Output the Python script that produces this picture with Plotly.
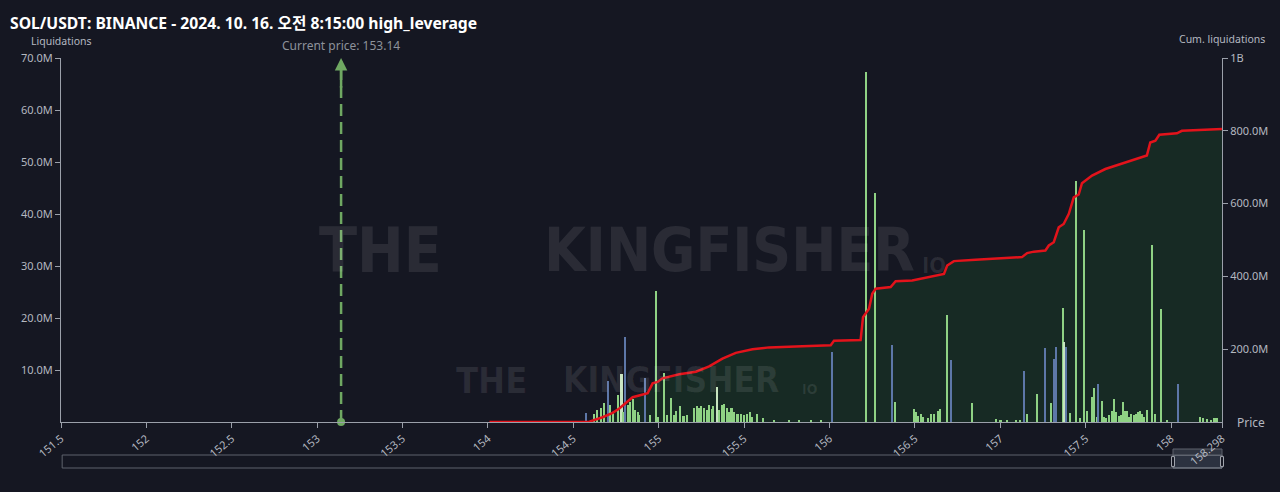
import plotly.graph_objects as go

# ---------------- data ----------------
bar_price = [154.574, 154.623, 154.639, 154.662, 154.677, 154.703, 154.716, 154.730, 154.759, 154.782,
             154.792, 154.804, 154.818, 154.833, 154.847, 154.861, 154.876, 154.886, 154.919, 154.950,
             154.984, 154.997, 155.032, 155.048, 155.071, 155.087, 155.101, 155.126, 155.145, 155.168,
             155.208, 155.223, 155.237, 155.250, 155.266, 155.282, 155.295, 155.309, 155.320, 155.340,
             155.354, 155.370, 155.383, 155.399, 155.412, 155.426, 155.442, 155.461, 155.481, 155.500,
             155.518, 155.535, 155.547, 155.576, 155.611, 155.675, 155.763, 155.822, 155.892, 155.950,
             156.015, 156.212, 156.266, 156.364, 156.386, 156.494, 156.508, 156.519, 156.533, 156.547,
             156.578, 156.595, 156.609, 156.633, 156.646, 156.689, 156.713, 156.832, 156.972, 157.001,
             157.038, 157.089, 157.114, 157.137, 157.157, 157.215, 157.264, 157.294, 157.313, 157.325,
             157.365, 157.375, 157.386, 157.406, 157.442, 157.465, 157.492, 157.508, 157.537, 157.551,
             157.566, 157.574, 157.595, 157.609, 157.619, 157.635, 157.654, 157.665, 157.679, 157.693,
             157.706, 157.718, 157.728, 157.742, 157.755, 157.767, 157.782, 157.794, 157.806, 157.818,
             157.829, 157.843, 157.858, 157.890, 157.904, 157.940, 157.975, 158.038, 158.171, 158.184,
             158.209, 158.235, 158.254, 158.268]
bar_value_m = [1.8, 1.5, 2.3, 2.7, 3.6, 7.8, 3.3, 2.0, 5.2, 9.2,
               2.0, 16.4, 3.3, 3.9, 4.4, 2.3, 1.9, 1.4, 8.5, 1.4,
               25.1, 0.9, 9.5, 1.4, 4.7, 1.4, 2.1, 3.1, 1.2, 1.4,
               2.7, 3.1, 2.7, 3.1, 2.7, 2.3, 3.3, 2.5, 3.0, 6.8,
               2.3, 3.3, 3.4, 2.7, 1.9, 2.6, 1.9, 1.6, 1.5, 1.3,
               1.6, 1.9, 1.0, 1.5, 0.7, 0.4, 0.4, 0.3, 0.4, 0.3,
               13.5, 67.3, 44.0, 14.8, 3.9, 2.5, 2.0, 1.2, 1.5, 0.9,
               0.7, 1.5, 1.6, 2.2, 2.5, 20.5, 11.9, 3.7, 0.5, 0.4,
               0.3, 0.4, 0.3, 9.8, 1.5, 5.3, 14.3, 3.7, 12.2, 14.5,
               22.0, 15.4, 14.5, 1.8, 46.3, 0.7, 37.0, 2.2, 4.9, 6.6,
               1.0, 7.4, 4.0, 0.9, 0.8, 1.4, 2.2, 4.5, 1.9, 1.2,
               1.4, 3.8, 2.2, 2.1, 1.0, 1.5, 1.4, 1.5, 1.9, 2.1,
               1.6, 1.0, 2.4, 34.0, 1.6, 21.7, 0.3, 7.3, 1.0, 0.8,
               0.5, 0.4, 0.7, 0.7]
bar_side = ['b', 'g', 'g', 'g', 'g', 'b', 'g', 'g', 'g', 'w',
            'g', 'b', 'g', 'g', 'g', 'g', 'g', 'g', 'b', 'g',
            'g', 'g', 'g', 'g', 'g', 'g', 'g', 'g', 'g', 'g',
            'g', 'g', 'g', 'g', 'g', 'g', 'g', 'g', 'g', 'w',
            'g', 'g', 'g', 'g', 'g', 'g', 'g', 'g', 'g', 'g',
            'g', 'g', 'g', 'g', 'g', 'g', 'g', 'g', 'g', 'g',
            'b', 'g', 'g', 'b', 'g', 'g', 'g', 'g', 'g', 'g',
            'g', 'g', 'g', 'g', 'g', 'g', 'b', 'g', 'g', 'g',
            'g', 'g', 'g', 'b', 'g', 'g', 'b', 'g', 'b', 'b',
            'g', 'w', 'b', 'g', 'g', 'g', 'g', 'g', 'g', 'g',
            'g', 'b', 'g', 'g', 'g', 'g', 'g', 'g', 'g', 'g',
            'g', 'g', 'g', 'g', 'g', 'g', 'g', 'g', 'g', 'g',
            'g', 'g', 'g', 'g', 'g', 'g', 'g', 'b', 'g', 'g',
            'g', 'g', 'g', 'g']

cum_price = [154.009, 154.564, 154.594, 154.671, 154.730, 154.769, 154.818, 154.847, 154.896, 154.935,
             154.964, 154.993, 155.022, 155.120, 155.218, 155.295, 155.373, 155.451, 155.549, 155.646,
             155.841, 156.007, 156.026, 156.182, 156.196, 156.212, 156.231, 156.250, 156.270, 156.358,
             156.387, 156.484, 156.563, 156.640, 156.670, 156.689, 156.728, 156.855, 157.127, 157.157,
             157.196, 157.264, 157.284, 157.313, 157.342, 157.371, 157.401, 157.430, 157.459, 157.478,
             157.537, 157.615, 157.732, 157.858, 157.878, 157.908, 157.931, 158.034, 158.063, 158.268,
             158.298]
cum_value_m = [0, 0, 1, 13, 25, 37, 56, 68, 74, 79,
               106, 110, 120, 131, 138, 153, 174, 190, 200, 205,
               208, 211, 223, 225, 288, 298, 311, 352, 366, 371,
               387, 389, 396, 403, 407, 430, 442, 446, 453, 464,
               468, 471, 485, 494, 535, 544, 572, 617, 625, 656,
               677, 695, 713, 732, 768, 773, 789, 793, 800, 804,
               805]

current_price = 153.14
x_tick_vals = [151.5, 152, 152.5, 153, 153.5, 154, 154.5, 155, 155.5, 156, 156.5, 157, 157.5, 158, 158.298]
x_tick_text = ["151.5", "152", "152.5", "153", "153.5", "154", "154.5", "155", "155.5", "156", "156.5",
               "157", "157.5", "158", "158.298"]
left_tick_vals = [10, 20, 30, 40, 50, 60, 70]
left_tick_text = ["10.0M", "20.0M", "30.0M", "40.0M", "50.0M", "60.0M", "70.0M"]
right_tick_vals = [200, 400, 600, 800, 1000]
right_tick_text = ["200.0M", "400.0M", "600.0M", "800.0M", "1B"]

title_text = "SOL/USDT: BINANCE - 2024. 10. 16. 오전 8:15:00 high_leverage"

# ---------------- style ----------------
BG = "#151722"
AXIS = "#9ba0aa"
TICKTXT = "#b4b8c0"
FONT = "Noto Sans, Noto Sans CJK KR, sans-serif"
side_colors = {'g': '#8fd284', 'b': '#5d77a8', 'w': '#c6e4bf'}
W, H = 1280, 492

fig = go.Figure()

# cumulative fill (bottom layer, axis y)
fig.add_trace(go.Scatter(
    x=cum_price, y=cum_value_m, yaxis="y", mode="lines",
    line=dict(width=0, color="rgba(0,0,0,0)"), fill="tozeroy",
    fillcolor="rgba(26,62,38,0.50)", hoverinfo="skip"))

# liquidation bars (axis y2 on the left)
fig.add_trace(go.Bar(
    x=bar_price, y=bar_value_m, yaxis="y2", width=0.012,
    marker=dict(color=[side_colors[s] for s in bar_side], line=dict(width=0))))

# current price marker line
fig.add_trace(go.Scatter(
    x=[current_price, current_price], y=[0, 68], yaxis="y2", mode="lines",
    line=dict(color="#6fa862", width=2.5, dash="12px,6px"), cliponaxis=False))
fig.add_trace(go.Scatter(
    x=[current_price], y=[0], yaxis="y2", mode="markers",
    marker=dict(color="#6fa862", size=8), cliponaxis=False))

# cumulative line (top layer, axis y3)
fig.add_trace(go.Scatter(
    x=cum_price, y=cum_value_m, yaxis="y3", mode="lines",
    line=dict(color="#e3131b", width=2.5)))

annotations = [
    dict(x=current_price, y=70, ax=current_price, ay=64, xref="x", yref="y2", axref="x", ayref="y2",
         text="", showarrow=True, arrowhead=2, arrowsize=1, arrowwidth=2.5, arrowcolor="#6fa862"),
    dict(x=current_price, y=1.033, xref="x", yref="paper", text="Current price: 153.14", showarrow=False,
         xanchor="center", yanchor="middle", font=dict(family=FONT, size=12, color="#8d929b")),
    dict(x=0, y=1.048, xref="paper", yref="paper", text="Liquidations", showarrow=False,
         xanchor="center", yanchor="middle", font=dict(family=FONT, size=10.5, color=TICKTXT)),
    dict(x=1.0, y=1.052, xref="paper", yref="paper", text="Cum. liquidations", showarrow=False,
         xanchor="center", yanchor="middle", font=dict(family=FONT, size=10.5, color=TICKTXT)),
    dict(x=1.011, y=0.0, xref="paper", yref="paper", text="Price", showarrow=False,
         xanchor="left", yanchor="middle", font=dict(family=FONT, size=12, color=TICKTXT)),
]
WM = "rgba(255,255,255,0.09)"
WMF = "DejaVu Sans Condensed"
for txt, x, y, s in [("THE", 0.275, 0.472, 62), ("KINGFISHER", 0.576, 0.472, 60), ("IO", 0.752, 0.43, 22),
                     ("THE", 0.371, 0.115, 36), ("KINGFISHER", 0.525, 0.115, 35), ("IO", 0.645, 0.092, 14)]:
    annotations.append(dict(x=x, y=y, xref="paper", yref="paper", text="<b>%s</b>" % txt, showarrow=False,
                            xanchor="center", yanchor="middle", font=dict(family=WMF, size=s, color=WM)))

# range-slider look-alike (drawn beneath tick labels)
shapes = [
    dict(type="rect", xref="paper", yref="paper", x0=0.001, x1=1.0, y0=-0.1264, y1=-0.0907,
         line=dict(color="#5f636d", width=1), fillcolor="rgba(0,0,0,0)", layer="below"),
    dict(type="rect", xref="paper", yref="paper", x0=0.9578, x1=1.0, y0=-0.1264, y1=-0.0907,
         line=dict(color="#7d828c", width=1), fillcolor="rgba(90,100,120,0.35)", layer="below"),
    dict(type="rect", xref="paper", yref="paper", x0=0.9578, x1=1.0, y0=-0.0907, y1=-0.0742,
         line=dict(color="#5f636d", width=1), fillcolor="#2f3440", layer="below"),
    dict(type="rect", xref="paper", yref="paper", x0=0.9565, x1=0.9591, y0=-0.122, y1=-0.095,
         line=dict(color="#a0a4ac", width=1), fillcolor=BG, layer="below"),
    dict(type="rect", xref="paper", yref="paper", x0=0.9987, x1=1.0013, y0=-0.122, y1=-0.095,
         line=dict(color="#a0a4ac", width=1), fillcolor=BG, layer="below"),
]

fig.update_layout(
    width=W, height=H,
    margin=dict(l=61, r=58, t=58, b=70),
    paper_bgcolor=BG, plot_bgcolor=BG,
    showlegend=False, barmode="overlay", bargap=0,
    title=dict(text=title_text, x=10 / W, xanchor="left", y=1 - 24 / H, yanchor="middle",
               font=dict(family=FONT, size=15.7, color="#ffffff", weight="bold")),
    xaxis=dict(range=[151.5, 158.298], tickvals=x_tick_vals, ticktext=x_tick_text, tickangle=-40,
               ticks="outside", ticklen=5, tickcolor=AXIS, showline=True, linecolor=AXIS, linewidth=1,
               showgrid=False, zeroline=False, tickfont=dict(family=FONT, size=11, color=TICKTXT)),
    yaxis=dict(side="right", range=[0, 1000], tickvals=right_tick_vals, ticktext=right_tick_text,
               ticks="outside", ticklen=5, tickcolor=AXIS, showline=True, linecolor=AXIS, linewidth=1,
               showgrid=False, zeroline=False, tickfont=dict(family=FONT, size=11, color=TICKTXT)),
    yaxis2=dict(overlaying="y", side="left", range=[0, 70], tickvals=left_tick_vals, ticktext=left_tick_text,
                ticks="outside", ticklen=5, tickcolor=AXIS, showline=True, linecolor=AXIS, linewidth=1,
                showgrid=False, zeroline=False, tickfont=dict(family=FONT, size=11, color=TICKTXT)),
    yaxis3=dict(overlaying="y", range=[0, 1000], visible=False),
    annotations=annotations, shapes=shapes,
)

page_css = ("document.body.style.margin='0';document.body.style.padding='0';"
            "document.body.style.overflow='hidden';document.body.style.background='%s';"
            "document.documentElement.style.background='%s';" % (BG, BG))
fig.write_html("out.html", post_script=page_css, config={"displayModeBar": False})
